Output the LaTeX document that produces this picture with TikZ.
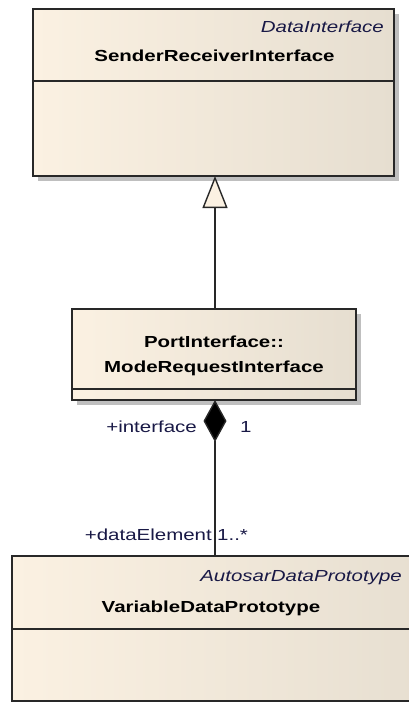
\documentclass[tikz,border=0pt]{standalone}
\usepackage{fontspec}
\usetikzlibrary{arrows.meta,shadows}
\newfontfamily\umlfont[FakeStretch=1.28]{Liberation Sans}
\definecolor{boxcream}{RGB}{251,241,226}
\definecolor{boxbeige}{RGB}{230,222,208}
\definecolor{edgegray}{RGB}{40,40,40}
\definecolor{rolecol}{RGB}{25,25,70}
\tikzset{
  classbox/.style={draw=edgegray, line width=1.4pt, left color=boxcream, right color=boxbeige,
    drop shadow={shadow xshift=5pt, shadow yshift=-5pt, fill=black!25, opacity=1}},
  divider/.style={draw=edgegray, line width=1.4pt},
  classname/.style={inner sep=0pt, font=\umlfont\fontsize{16}{19}\selectfont\bfseries},
  stereo/.style={inner sep=0pt, font=\umlfont\fontsize{16}{19}\selectfont\itshape, text=rolecol},
  role/.style={inner sep=0pt, font=\umlfont\fontsize{16}{19}\selectfont, text=rolecol},
  link/.style={draw=edgegray, line width=1.4pt}
}
\begin{document}
\begin{tikzpicture}[x=1pt,y=-1pt]
  \clip (0,0) rectangle (409,702);
  \fill[white] (0,0) rectangle (409,702);

  % SenderReceiverInterface
  \path[classbox] (33,9) rectangle (394,176);
  \coordinate (sri) at (215,176);
  \draw[divider] (33,81) -- (394,81);
  \node[stereo, anchor=base east] (sriStereo) at (384,32) {DataInterface};
  \node[classname, anchor=base] (sriName) at (214.5,61) {SenderReceiverInterface};

  % ModeRequestInterface
  \path[classbox] (72,309) rectangle (356,400);
  \coordinate (mriTop) at (215,309);
  \coordinate (mriBottom) at (215,400);
  \draw[divider] (72,389) -- (356,389);
  \node[classname, anchor=base] (mriPkg) at (214,347) {PortInterface::};
  \node[classname, anchor=base] (mriName) at (214,372) {ModeRequestInterface};

  % VariableDataPrototype
  \path[classbox] (12,556) rectangle (440,701);
  \coordinate (vdp) at (215,556);
  \draw[divider] (12,629) -- (440,629);
  \node[stereo, anchor=base east] (vdpStereo) at (402,581) {AutosarDataPrototype};
  \node[classname, anchor=base] (vdpName) at (211,612) {VariableDataPrototype};

  % generalization
  \draw[link, -{Triangle[length=32pt, width=25pt, fill=boxcream]}] (mriTop) -- (sri);

  % composition
  \draw[link, {Diamond[length=42pt, width=23pt, fill=black]}-] (mriBottom) -- (vdp);

  % role labels
  \node[role, anchor=base east] (roleIf) at (197,432) {+interface};
  \node[role, anchor=base west] (multIf) at (240,432) {1};
  \node[role, anchor=base east] (roleDe) at (212,540) {+dataElement};
  \node[role, anchor=base west] (multDe) at (217,540) {1..*};
\end{tikzpicture}
\end{document}
